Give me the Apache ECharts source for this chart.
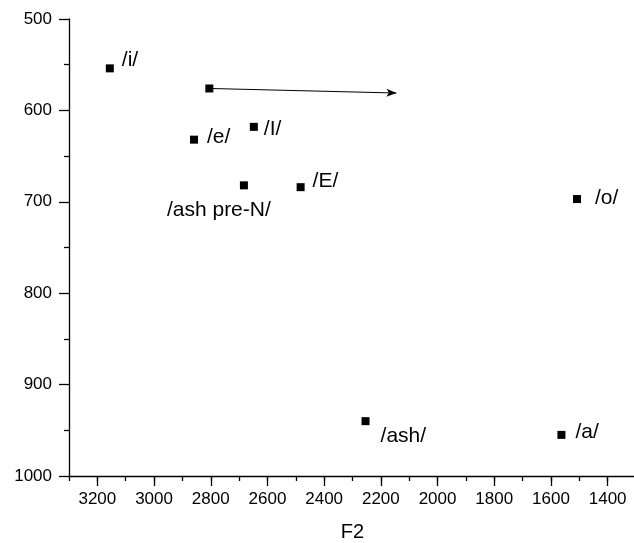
<!DOCTYPE html>
<html>
<head>
<meta charset="utf-8">
<script src="https://cdn.jsdelivr.net/npm/echarts@6/dist/echarts.min.js"></script>
<style>
  html, body { margin: 0; padding: 0; background: #fff; }
  #chart { width: 634px; height: 543px; }
</style>
</head>
<body>
<div id="chart"></div>
<script>
  // vowel points: F2 (x, reversed) and F1 (y, reversed)
  var vowels = ['/i/', '', '/e/', '/I/', '/ash pre-N/', '/E/', '/o/', '/ash/', '/a/'];
  var f2 = [3156, 2805, 2859, 2648, 2683, 2483, 1508, 2254, 1563];
  var f1 = [554, 576, 632, 618, 682, 684, 697, 940, 955];

  // arrow drawn from the unlabeled point
  var arrowFrom = [2805, 576];
  var arrowTo = [2145, 581];

  var xMajorTicks = [1400, 1600, 1800, 2000, 2200, 2400, 2600, 2800, 3000, 3200];

  var labelOffset = {
    '/i/': [8, -8],
    '/e/': [9, -2],
    '/I/': [6, 2],
    '/ash pre-N/': [-81, 25],
    '/E/': [8, -6],
    '/o/': [14, -1],
    '/ash/': [11, 15],
    '/a/': [10, -3]
  };

  var font = 'Arial, "Liberation Sans", sans-serif';
  var chart = echarts.init(document.getElementById('chart'));

  var pts = [];
  for (var i = 0; i < vowels.length; i++) {
    var item = { name: vowels[i], value: [f2[i], f1[i]] };
    if (vowels[i] !== '') {
      item.label = {
        show: true,
        position: 'right',
        distance: 0,
        offset: labelOffset[vowels[i]],
        formatter: '{b}',
        color: '#000',
        fontSize: 21,
        fontFamily: font
      };
    }
    pts.push(item);
  }

  var plain = function (v) { return String(v); };
  var axisLine = { show: true, onZero: false, lineStyle: { color: '#000', width: 1.3 } };

  var option = {
    animation: false,
    grid: { left: 69, top: 19, width: 567, height: 457, outerBoundsMode: 'none', containLabel: false },
    xAxis: [
      {
        type: 'value',
        inverse: true,
        min: 1300,
        max: 3300,
        interval: 100,
        name: 'F2',
        nameLocation: 'middle',
        nameGap: 46,
        nameTextStyle: { color: '#000', fontSize: 20, fontFamily: font },
        axisLine: axisLine,
        axisTick: { show: true, length: 5, lineStyle: { color: '#000', width: 1.3 } },
        axisLabel: {
          customValues: xMajorTicks,
          formatter: plain,
          margin: 15,
          color: '#000',
          fontSize: 17,
          fontFamily: font
        },
        splitLine: { show: false }
      },
      {
        type: 'value',
        inverse: true,
        min: 1300,
        max: 3300,
        position: 'bottom',
        axisLine: { show: false },
        axisTick: { show: true, customValues: xMajorTicks, length: 10, lineStyle: { color: '#000', width: 1.3 } },
        axisLabel: { show: false },
        splitLine: { show: false }
      }
    ],
    yAxis: {
      type: 'value',
      inverse: true,
      min: 500,
      max: 1000,
      interval: 100,
      axisLine: axisLine,
      axisTick: { show: true, length: 10, lineStyle: { color: '#000', width: 1.3 } },
      minorTick: { show: true, splitNumber: 2, length: 5, lineStyle: { color: '#000', width: 1.3 } },
      axisLabel: { margin: 17, formatter: plain, color: '#000', fontSize: 17, fontFamily: font },
      splitLine: { show: false }
    },
    series: [
      {
        type: 'scatter',
        symbol: 'rect',
        symbolSize: 8,
        itemStyle: { color: '#000', opacity: 1 },
        data: pts,
        markLine: {
          silent: true,
          symbol: ['none', 'arrow'],
          symbolSize: [6, 10],
          label: { show: false },
          lineStyle: { color: '#000', width: 1, type: 'solid' },
          data: [[{ coord: arrowFrom }, { coord: arrowTo }]]
        }
      }
    ]
  };

  chart.setOption(option);
</script>
</body>
</html>
